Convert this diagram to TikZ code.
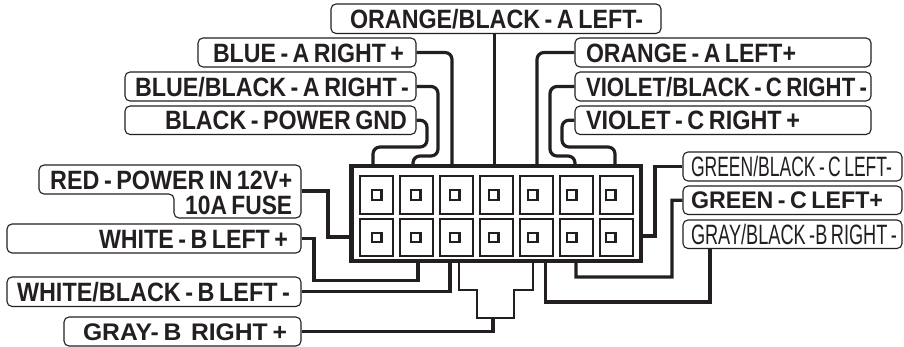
\documentclass[tikz,border=0pt]{standalone}
\usepackage{fontspec}
\usepackage{graphicx}
\setmainfont{Liberation Sans}[WordSpace={0.7}]
\definecolor{ink}{HTML}{231F20}
\newcommand{\fb}{\fontsize{26.5}{26.5}\selectfont\bfseries}
\newcommand{\fbs}{\fontsize{24}{24}\selectfont\bfseries}
\newcommand{\fr}{\fontsize{28}{28}\selectfont}
% name, x1, y1, x2, y2, text start, text end, font, text
\newcommand{\lbl}[9]{%
  \pgfmathsetmacro\bw{#4-#2}\pgfmathsetmacro\bh{#5-#3}%
  \pgfmathsetmacro\bx{(#2+#4)/2}\pgfmathsetmacro\by{(#3+#5)/2}%
  \pgfmathsetmacro\tdx{#6-#2}\pgfmathsetmacro\tw{#7-#6}%
  \node[labelbox,minimum width=\bw pt,minimum height=\bh pt] (#1) at (\bx,\by)
    {\makebox[\bw pt][l]{\hspace{\tdx pt}{#8\smash{\raisebox{-.36em}{\resizebox{\tw pt}{\height}{#9}}}}}};}
% free text: name, x1, x2, y centre, text
\newcommand{\txt}[5]{%
  \pgfmathsetmacro\tw{#3-#2}%
  \node[anchor=west,inner sep=0pt,text=ink] (#1) at (#2,#4)
    {{\fb\smash{\raisebox{-.36em}{\resizebox{\tw pt}{\height}{#5}}}}};}
\tikzset{
  labelbox/.style={draw=ink,line width=1.1pt,rounded corners=5pt,inner sep=0pt,text=ink,fill=white},
  wire/.style={draw=ink,line width=3.2pt,rounded corners=7pt},
  sharpwire/.style={draw=ink,line width=3.2pt,line join=miter},
  thinwire/.style={draw=ink,line width=2pt,line join=miter},
  housing/.style={draw=ink,line width=4.2pt,minimum width=289.5pt,minimum height=95pt,inner sep=0pt},
  cellbox/.style={draw=ink,line width=2pt,minimum width=33pt,minimum height=37.5pt,inner sep=0pt},
  pinbox/.style={draw=ink,line width=2.2pt,minimum size=9.5pt,inner sep=0pt}
}
\begin{document}
\begin{tikzpicture}[x=1pt,y=-1pt]
\useasboundingbox (0,0) rectangle (904,347);
% housing
\node[housing] (conn) at (496.25,213.5) {};
\foreach \r/\cy in {a/195,b/237.5}{
  \foreach \n/\cx/\px in {1/376.5/376.7,2/416.5/415.7,3/456.5/454.7,4/496.5/493.7,5/536.5/532.7,6/576.3/571.7,7/616/610.7}{
    \node[cellbox] (cell\r\n) at (\cx,\cy) {};
    \node[pinbox] (pin\r\n) at (\px,\cy) {};
  }
}
% labels
\lbl{ob}{331}{4}{661}{33.5}{350}{643}{\fb}{ORANGE/BLACK - A LEFT-}
\lbl{bl}{198}{38}{416}{67}{213}{404}{\fb}{BLUE - A RIGHT +}
\lbl{bb}{125}{72}{416}{101}{135}{409}{\fb}{BLUE/BLACK - A RIGHT -}
\lbl{bk}{125}{106}{416}{134.5}{165}{407}{\fb}{BLACK - POWER GND}
\lbl{or}{575}{38}{871}{67}{586}{796}{\fb}{ORANGE - A LEFT+}
\lbl{vb}{575}{72}{871}{101}{586}{867}{\fb}{VIOLET/BLACK - C RIGHT -}
\lbl{vi}{575}{106}{871}{134.5}{586}{800}{\fb}{VIOLET - C RIGHT +}
\lbl{gb}{683}{152}{902}{181}{691}{892}{\fr}{GREEN/BLACK - C LEFT-}
\lbl{gn}{683}{186}{902}{214.5}{691}{883}{\fbs}{GREEN - C LEFT+}
\lbl{gy}{683}{220}{902}{248.5}{691}{897}{\fr}{GRAY/BLACK -B RIGHT -}
\lbl{wh}{7}{224}{301}{253}{99}{288}{\fb}{WHITE - B LEFT +}
\lbl{wb}{7}{277}{301}{306.5}{17}{290}{\fb}{WHITE/BLACK - B LEFT -}
\lbl{gr}{64}{317}{301}{346}{83}{287}{\fbs}{GRAY- B\ \ RIGHT +}
% red label with its stepped outline
\draw[draw=ink,line width=1.1pt,rounded corners=5pt]
  (39,180) -- (39,165) -- (301,165) -- (301,218) -- (174,218) -- (174,194) -- (39,194) -- cycle;
\txt{rd}{50}{292}{179.5}{RED - POWER IN 12V+}
\txt{fu}{185}{292}{204.5}{10A FUSE}
\coordinate (rdport) at (301.5,191);
% connector attachment points
\coordinate (t1) at (373,165);  \coordinate (t2) at (413,165);
\coordinate (t3) at (452,165);  \coordinate (t4) at (494.5,165);
\coordinate (t5) at (537,165);  \coordinate (t6) at (575,165);
\coordinate (t7) at (615,165);
\coordinate (l1) at (350,237);  \coordinate (r1) at (642,236);
\coordinate (b1) at (418,262);  \coordinate (b2) at (450,262);
\coordinate (b3) at (459,262);  \coordinate (b4) at (533,262);
\coordinate (b5) at (545.4,262);  \coordinate (b6) at (576,262);
\coordinate (tee) at (493,318);
% wires
\draw[sharpwire] (ob.south -| t4) -- (t4);
\draw[wire] (bl.east) -| (t3);
\draw[wire] (bb.east) -- (438,86.5) -- (438,156) -- (413,156) -- (t2);
\draw[wire] (bk.east) -- (427,120.2) -- (427,147) -- (373,147) -- (t1);
\draw[wire] (or.west) -| (t5);
\draw[wire] (vb.west) -- (550,86.5) -- (550,156) -- (575,156) -- (t6);
\draw[wire] (vi.west) -- (562,120.2) -- (562,147) -- (615,147) -- (t7);
\draw[sharpwire] (gb.west) -- (655,166.5) -- (655,236) -- (r1);
\draw[sharpwire] (gn.west) -- (672,200.2) -- (672,277) -- (576,277) -- (b6);
\draw[sharpwire] (gy.south -| 710,0) -- (710,302) -- (b5 |- 710,302) -- (b5);
\draw[sharpwire] (rdport) -- (328,191) -- (328,237) -- (l1);
\draw[sharpwire] (wh.east) -- (314,238.5) -- (314,280.5) -- (418,280.5) -- (b1);
\draw[sharpwire] (wb.east) -- (450,291.75) -- (b2);
\draw[sharpwire] (gr.east) -- (493,331.5) -- (tee);
\draw[thinwire] (b3) -- (459,290) -- (477,290) -- (477,318) -- (514,318) -- (514,290) -- (533,290) -- (b4);
\end{tikzpicture}
\end{document}
